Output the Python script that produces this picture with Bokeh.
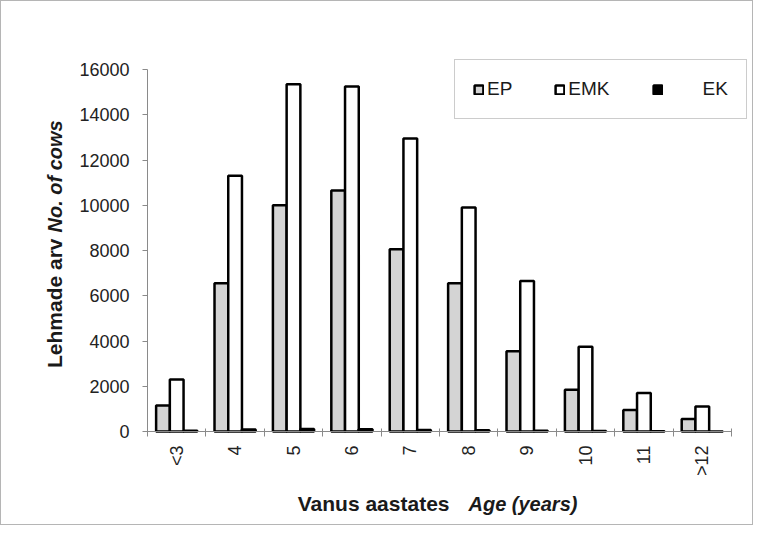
from math import pi
from bokeh.plotting import figure
from bokeh.models import (ColumnDataSource, Range1d, FixedTicker, Legend,
                          LegendItem, Label)
from bokeh.embed import file_html
from bokeh.resources import INLINE

# ---- data ----
categories = ["<3", "4", "5", "6", "7", "8", "9", "10", "11", ">12"]
ep = [1150, 6550, 10000, 10650, 8050, 6550, 3550, 1850, 950, 550]
emk = [2300, 11300, 15350, 15250, 12950, 9900, 6650, 3750, 1700, 1100]
ek = [30, 90, 110, 100, 70, 50, 30, 20, 10, 5]
series_names = ["EP", "EMK", "EK"]
y_ticks = [0, 2000, 4000, 6000, 8000, 10000, 12000, 14000, 16000]
y_title = ["Lehmade arv", "No. of cows"]
x_title = ["Vanus aastates", "Age (years)"]

FONT = "Liberation Sans"
AXIS_GREY = "#8a8a8a"
W, H = 753, 525

# layout in pixels (canvas coordinates)
AX_LEFT, AX_BOTTOM, AX_TOP = 146, 430, 68
n = len(categories)
px_per_cat = 58.4
units_per_px = y_ticks[-1] / float(AX_BOTTOM - AX_TOP)

centers = [i + 0.5 for i in range(n)]
bw = 0.235
src = ColumnDataSource(dict(
    x_ep=[c - bw for c in centers], x_emk=centers, x_ek=[c + bw for c in centers],
    ep=ep, emk=emk, ek=ek))

x_range = Range1d(-AX_LEFT / px_per_cat, (W - AX_LEFT) / px_per_cat)
y_range = Range1d(-(H - AX_BOTTOM) * units_per_px, AX_BOTTOM * units_per_px)

p = figure(width=W, height=H, output_backend="svg", toolbar_location=None,
           x_range=x_range, y_range=y_range,
           min_border_left=0, min_border_right=0, min_border_top=0,
           min_border_bottom=0)
p.title.visible = False
p.xgrid.visible = False
p.ygrid.visible = False
p.outline_line_color = None
p.background_fill_color = "white"
p.border_fill_color = "white"
p.styles = {"border": "1px solid #b5b5b5"}

r_ep = p.vbar(x="x_ep", top="ep", width=bw, source=src, fill_color="#d4d4d4",
              line_color="black", line_width=2.5)
r_emk = p.vbar(x="x_emk", top="emk", width=bw, source=src, fill_color="white",
               line_color="black", line_width=2.5)
r_ek = p.vbar(x="x_ek", top="ek", width=bw, source=src, fill_color="black",
              line_color="black", line_width=2.5)

# x axis: labels at centres, ticks at category boundaries
xa = p.xaxis[0]
xa.fixed_location = 0
xa.bounds = (0, n)
xa.ticker = FixedTicker(ticks=centers, minor_ticks=list(range(n + 1)))
xa.major_label_overrides = {c: lab for c, lab in zip(centers, categories)}
xa.major_label_orientation = pi / 2
xa.major_tick_out = 0
xa.major_tick_in = 0
xa.minor_tick_out = 5
xa.minor_tick_in = 3
xa.minor_tick_line_color = AXIS_GREY
xa.axis_line_color = AXIS_GREY
xa.major_label_standoff = 9
xa.major_label_text_font = FONT
xa.major_label_text_font_size = "18px"
xa.major_label_text_color = "#222222"

ya = p.yaxis[0]
ya.fixed_location = 0
ya.bounds = (0, y_ticks[-1])
ya.ticker = FixedTicker(ticks=y_ticks)
ya.major_tick_out = 5
ya.major_tick_in = 0
ya.minor_tick_out = 0
ya.minor_tick_in = 0
ya.major_tick_line_color = AXIS_GREY
ya.axis_line_color = AXIS_GREY
ya.major_label_standoff = 13
ya.major_label_text_font = FONT
ya.major_label_text_font_size = "18px"
ya.major_label_text_color = "#222222"

# axis titles (two styles each)
ty_x = (53 - AX_LEFT) / px_per_cat
p.add_layout(Label(x=ty_x, y=(AX_BOTTOM - 237) * units_per_px, angle=pi / 2,
                   text=y_title[0], text_align="right", text_baseline="middle",
                   text_font=FONT, text_font_style="bold", text_font_size="21px",
                   text_color="#1a1a1a"))
p.add_layout(Label(x=ty_x, y=(AX_BOTTOM - 231) * units_per_px, angle=pi / 2,
                   text=y_title[1], text_align="left", text_baseline="middle",
                   text_font=FONT, text_font_style="bold italic",
                   text_font_size="20px", text_color="#1a1a1a"))
tx_y = (AX_BOTTOM - 502) * units_per_px
p.add_layout(Label(x=(448 - AX_LEFT) / px_per_cat, y=tx_y, text=x_title[0],
                   text_align="right", text_baseline="middle", text_font=FONT,
                   text_font_style="bold", text_font_size="21px",
                   text_color="#1a1a1a"))
p.add_layout(Label(x=(467 - AX_LEFT) / px_per_cat, y=tx_y, text=x_title[1],
                   text_align="left", text_baseline="middle", text_font=FONT,
                   text_font_style="bold italic", text_font_size="20px",
                   text_color="#1a1a1a"))

legend = Legend(items=[LegendItem(label=series_names[0], renderers=[r_ep]),
                       LegendItem(label=series_names[1], renderers=[r_emk]),
                       LegendItem(label="\u00a0" * 7 + series_names[2], renderers=[r_ek])],
                orientation="horizontal", location=(453, H - 118), padding=18,
                spacing=42, label_standoff=3, glyph_width=11, glyph_height=11,
                label_text_font=FONT, label_text_font_size="19px",
                label_text_color="#1a1a1a", border_line_color="#999999",
                border_line_width=1, background_fill_alpha=1, margin=0)
p.add_layout(legend)

open("out.html", "w").write(file_html(p, INLINE))
